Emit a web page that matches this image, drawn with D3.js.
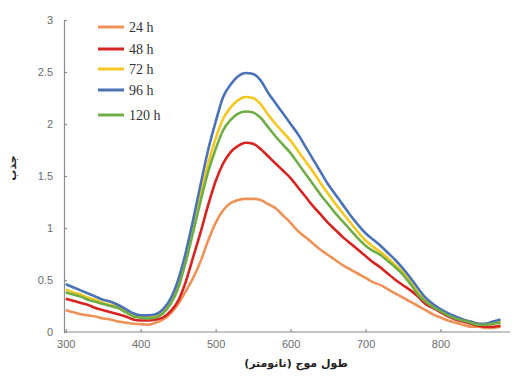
<!DOCTYPE html>
<html>
<head>
<meta charset="utf-8">
<script src="https://cdn.jsdelivr.net/npm/d3@7"></script>
<style>
  body { margin: 0; background: #fff; }
  svg { display: block; }
</style>
</head>
<body>
<div id="chart"></div>
<script>
// wavelength (nm)
var wavelengths = [300,310,320,330,340,350,360,370,380,390,400,410,420,430,440,450,460,470,480,490,
                   500,510,520,530,540,550,560,570,580,590,600,610,620,630,640,650,660,670,680,690,
                   700,710,720,730,740,750,760,770,780,790,800,810,820,830,840,850,860,870,880];

var abs24 = [0.21,0.19,0.17,0.16,0.15,0.13,0.12,0.10,0.09,0.08,0.075,0.07,0.09,0.12,0.18,0.27,0.39,0.52,0.68,0.88,
             1.05,1.17,1.24,1.27,1.28,1.28,1.27,1.23,1.19,1.12,1.05,0.97,0.91,0.85,0.79,0.74,0.69,0.64,0.60,0.56,
             0.52,0.48,0.45,0.41,0.37,0.33,0.29,0.25,0.21,0.17,0.14,0.11,0.09,0.07,0.05,0.05,0.04,0.04,0.05];
var abs48 = [0.32,0.30,0.28,0.26,0.23,0.21,0.19,0.17,0.15,0.12,0.11,0.11,0.12,0.14,0.20,0.30,0.48,0.72,0.96,1.22,
             1.45,1.62,1.73,1.79,1.82,1.81,1.76,1.69,1.62,1.55,1.48,1.39,1.30,1.21,1.13,1.05,0.98,0.91,0.85,0.79,
             0.73,0.67,0.62,0.56,0.50,0.45,0.40,0.34,0.27,0.23,0.19,0.15,0.12,0.10,0.08,0.06,0.05,0.05,0.06];
var abs72 = [0.41,0.38,0.36,0.33,0.31,0.28,0.26,0.24,0.20,0.16,0.14,0.14,0.15,0.19,0.28,0.44,0.70,1.00,1.32,1.62,
             1.86,2.05,2.16,2.23,2.26,2.25,2.19,2.09,2.00,1.92,1.84,1.74,1.64,1.54,1.43,1.33,1.23,1.14,1.05,0.96,
             0.88,0.82,0.77,0.71,0.64,0.57,0.48,0.38,0.30,0.25,0.21,0.17,0.14,0.12,0.10,0.08,0.07,0.08,0.10];
var abs96 = [0.46,0.43,0.40,0.37,0.34,0.31,0.29,0.26,0.22,0.18,0.16,0.16,0.17,0.22,0.32,0.50,0.76,1.08,1.42,1.75,
             2.02,2.26,2.38,2.46,2.49,2.48,2.42,2.30,2.20,2.10,2.00,1.90,1.78,1.66,1.54,1.42,1.32,1.22,1.12,1.03,
             0.95,0.89,0.83,0.76,0.69,0.61,0.52,0.42,0.33,0.27,0.22,0.18,0.15,0.12,0.10,0.08,0.08,0.10,0.12];
var abs120 = [0.38,0.36,0.34,0.31,0.29,0.27,0.25,0.23,0.19,0.15,0.14,0.13,0.14,0.18,0.27,0.42,0.67,0.96,1.26,1.54,
              1.76,1.94,2.04,2.10,2.12,2.11,2.06,1.97,1.88,1.80,1.72,1.62,1.52,1.42,1.32,1.23,1.14,1.06,0.98,0.90,
              0.83,0.78,0.74,0.68,0.62,0.55,0.46,0.36,0.29,0.24,0.20,0.16,0.13,0.11,0.09,0.07,0.07,0.08,0.09];

var seriesNames = ["24 h", "48 h", "72 h", "96 h", "120 h"];
var seriesValues = [abs24, abs48, abs72, abs96, abs120];
var seriesColors = ["#ef9257", "#d82420", "#f5c721", "#4b72b6", "#6fad47"];

var xTicks = [300, 400, 500, 600, 700, 800];
var yTicks = [0, 0.5, 1, 1.5, 2, 2.5, 3];

var width = 518, height = 376;
var svg = d3.select("#chart").append("svg").attr("width", width).attr("height", height);

var x = d3.scaleLinear().domain([300, 890]).range([65.7, 508]);
var y = d3.scaleLinear().domain([0, 3]).range([332, 20]);

// axes
var xAxis = svg.append("g").attr("transform", "translate(0," + y(0) + ")")
    .call(d3.axisBottom(x).tickValues(xTicks).tickSizeInner(-3).tickSizeOuter(0).tickPadding(8));
var yAxis = svg.append("g").attr("transform", "translate(" + 64 + ",0)")
    .call(d3.axisLeft(y).tickValues(yTicks).tickSizeInner(-3).tickSizeOuter(0).tickPadding(11)
          .tickFormat(function(d) { return String(d); }));
xAxis.select(".domain").attr("d", "M64,0H510");
[xAxis, yAxis].forEach(function(a) {
  a.selectAll(".domain, line").attr("stroke", "#8c8c8c").attr("stroke-width", 1.2);
  a.selectAll("text").attr("fill", "#6b6b6b").style("font-family", "'Liberation Sans', sans-serif").style("font-size", "11px");
});

// lines
var line = d3.line()
    .x(function(d, i) { return x(wavelengths[i]); })
    .y(function(d) { return y(d); })
    .curve(d3.curveMonotoneX);

svg.append("g").selectAll("path").data(seriesValues).enter().append("path")
    .attr("d", line)
    .attr("fill", "none")
    .attr("stroke", function(d, i) { return seriesColors[i]; })
    .attr("stroke-width", 2.6)
    .attr("stroke-linejoin", "round");

// legend
var legendY = [27, 49, 69, 90, 115];
var legend = svg.append("g").selectAll("g").data(seriesNames).enter().append("g")
    .attr("transform", function(d, i) { return "translate(98," + legendY[i] + ")"; });
legend.append("line").attr("x1", 0).attr("x2", 26).attr("y1", 0).attr("y2", 0)
    .attr("stroke", function(d, i) { return seriesColors[i]; }).attr("stroke-width", 3);
legend.append("text").attr("x", 31).attr("y", 5)
    .attr("fill", "#333")
    .style("font-family", "'Liberation Serif', serif").style("font-size", "14px")
    .text(function(d) { return d; });

// axis titles
svg.append("text").attr("x", 296).attr("y", 367).attr("text-anchor", "middle")
    .attr("fill", "#222").style("font-family", "'DejaVu Sans', sans-serif")
    .style("font-size", "11px").style("font-weight", "bold")
    .attr("direction", "rtl")
    .text("طول موج (نانومتر)");
svg.append("text").attr("transform", "translate(16,168) rotate(-90)").attr("text-anchor", "middle")
    .attr("fill", "#222").style("font-family", "'DejaVu Sans', sans-serif")
    .style("font-size", "11px").style("font-weight", "bold")
    .text("جذب");
</script>
</body>
</html>
